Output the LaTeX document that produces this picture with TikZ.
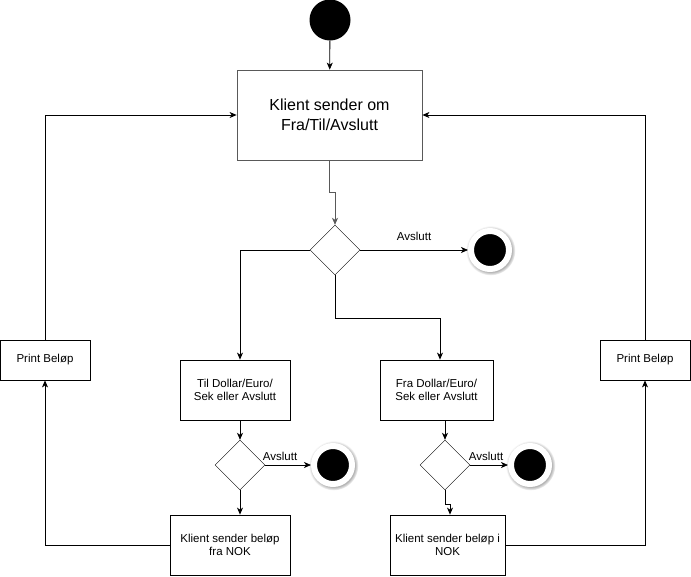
\documentclass[tikz,border=0pt]{standalone}
\usepackage{fontspec}
\setmainfont{Liberation Sans}
\usetikzlibrary{arrows.meta,shapes.geometric,shadows}
\tikzset{
  pil/.style={-{Stealth[length=7pt,width=6pt,inset=2pt]}, line width=0.8pt},
  boks/.style={draw, line width=0.8pt, align=center, inner sep=2pt, font=\fontsize{11.5}{13.5}\selectfont},
  valg/.style={draw, diamond, aspect=1, inner sep=0pt, minimum width=50pt, minimum height=50pt},
  slutt/.style={circle, fill=black, draw=white, line width=6pt, inner sep=0pt, minimum size=38pt,
    circular drop shadow={shadow xshift=0.5pt, shadow yshift=-0.5pt, shadow scale=1.3, fill=black!30}},
  etikett/.style={font=\fontsize{11.5}{13.5}\selectfont}
}
\begin{document}
\begin{tikzpicture}[x=1pt, y=-1pt]
\useasboundingbox[fill=white] (0,0) rectangle (691,576);
% Start og hovedboks
\node[circle, fill, inner sep=0pt, minimum size=41pt] (start) at (330,20) {};
\node[boks, draw=black!65, minimum width=185pt, minimum height=90pt, font=\fontsize{16}{20}\selectfont]
  (hoved) at (329.5,115) {Klient sender om\\Fra/Til/Avslutt};
\node[valg] (valg) at (335,250) {};
\node[slutt] (slutt1) at (490,250) {};
% Til / Fra
\node[boks, minimum width=110pt, minimum height=60pt] (til) at (235,390) {Til Dollar/Euro/\\Sek eller Avslutt};
\node[boks, minimum width=113pt, minimum height=60pt] (fra) at (436.5,390) {Fra Dollar/Euro/\\Sek eller Avslutt};
\node[valg] (valgTil) at (240,465) {};
\node[valg] (valgFra) at (445,465) {};
\node[slutt] (slutt2) at (333,465) {};
\node[slutt] (slutt3) at (530,465) {};
\node[boks, minimum width=120pt, minimum height=60pt] (belopFra) at (230,545) {Klient sender beløp\\fra NOK};
\node[boks, minimum width=115pt, minimum height=60pt] (belopTil) at (447.5,545) {Klient sender beløp i\\NOK};
% Utskrift
\node[boks, minimum width=90pt, minimum height=40pt] (printV) at (45,360) {Print Beløp};
\node[boks, minimum width=90pt, minimum height=40pt] (printH) at (645,360) {Print Beløp};
% Piler
\draw[pil] (start) -- (hoved);
\draw[pil, draw=black!65] (hoved.south) -- ++(0,32) -| (valg.north);
\draw[pil] (valg.east) -- (slutt1) node[etikett, midway, above=6pt] {Avslutt};
\draw[pil] (valg.west) -| ([xshift=5pt]til.north);
\draw[pil] (valg.south) -- ++(0,43) -| ([xshift=3.5pt]fra.north);
\draw[pil] (til.south -| valgTil) -- (valgTil.north);
\draw[pil] (fra.south -| valgFra) -- (valgFra.north);
\draw[pil] (valgTil.east) -- (slutt2) node[etikett, midway, above=1pt, xshift=-8pt] {Avslutt};
\draw[pil] (valgFra.east) -- (slutt3) node[etikett, midway, above=1pt, xshift=-3pt] {Avslutt};
\draw[pil] (valgTil.south) -- (belopFra.north -| valgTil);
\draw[pil] (valgFra.south) -- ++(0,14) -| ([xshift=2.5pt]belopTil.north);
\draw[pil] (belopFra.west) -| (printV.south);
\draw[pil] (printV.north) |- (hoved.west);
\draw[pil] (belopTil.east) -| (printH.south);
\draw[pil] (printH.north) |- (hoved.east);
\end{tikzpicture}
\end{document}
